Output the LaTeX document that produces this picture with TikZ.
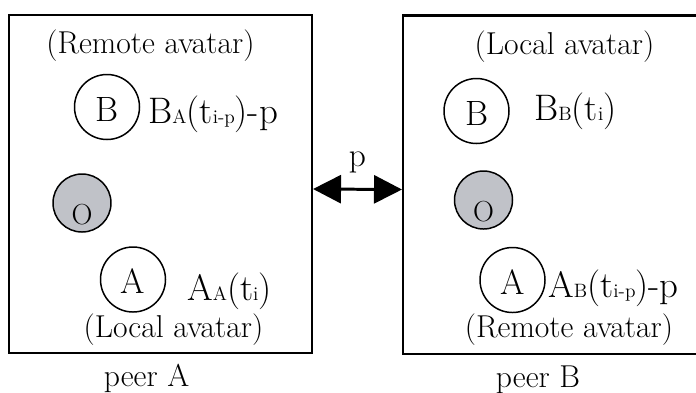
\documentclass[tikz,border=0pt]{standalone}
\usepackage{tikz}
\usetikzlibrary{arrows.meta, positioning}
\usepackage{xcolor}
\definecolor{objgray}{RGB}{192,194,200}
\newcommand{\subtxt}[1]{{\fontsize{11}{11}\selectfont #1}}

\begin{document}
\begin{tikzpicture}[
  peer/.style={draw, line width=1.15pt, minimum width=6.06cm, minimum height=6.76cm},
  avatar/.style={draw, circle, line width=0.85pt, minimum size=1.3cm, inner sep=0pt,
                 text height=0.56cm, text depth=0pt, font=\fontsize{20}{22}\selectfont},
  obstacle/.style={draw, circle, fill=objgray, line width=0.85pt, minimum size=1.16cm,
                   inner sep=0pt, text height=0.86cm, text depth=0pt,
                   font=\fontsize{16.5}{18}\selectfont},
  note/.style={anchor=base, inner sep=0pt, font=\fontsize{18}{20}\selectfont},
  poslabel/.style={anchor=base west, inner sep=0pt, font=\fontsize{21}{24}\selectfont},
  arr/.style={{Triangle[length=0.56cm,width=0.56cm]}-{Triangle[length=0.56cm,width=0.56cm]},
              line width=1.7pt}
]
  \clip (0,0) rectangle (13.92,-7.84);

  % the two peers
  \node[peer] (pA) at (3.21,-3.68)  {};
  \node[peer] (pB) at (11.09,-3.69) {};

  % peer A
  \node[note]     (remA)  at (3.01,-1.06) {(Remote avatar)};
  \node[avatar]   (bA)    at (2.14,-2.14) {B};
  \node[poslabel] (bApos) at (2.96,-2.46) {B\subtxt{A}(t\subtxt{i-p})-p};
  \node[obstacle] (oA)    at (1.64,-4.06) {O};
  \node[avatar]   (aA)    at (2.66,-5.59) {A};
  \node[poslabel] (aApos) at (3.74,-6.00) {A\subtxt{A}(t\subtxt{i})};
  \node[note]     (locA)  at (3.47,-6.74) {(Local avatar)};
  \node[note]     (nameA) at (2.93,-7.72) {peer A};

  % peer B
  \node[note]     (locB)  at (11.29,-1.08) {(Local avatar)};
  \node[avatar]   (bB)    at (9.53,-2.22)  {B};
  \node[poslabel] (bBpos) at (10.68,-2.41) {B\subtxt{B}(t\subtxt{i})};
  \node[obstacle] (oB)    at (9.67,-4.00)  {O};
  \node[avatar]   (aB)    at (10.25,-5.60) {A};
  \node[poslabel] (aBpos) at (10.96,-5.94) {A\subtxt{B}(t\subtxt{i-p})-p};
  \node[note]     (remB)  at (11.38,-6.74) {(Remote avatar)};
  \node[note]     (nameB) at (10.76,-7.74) {peer B};

  % delay between the peers
  \draw[arr] ([yshift=-0.1cm]pA.east) -- ([yshift=-0.1cm]pB.west)
    node[midway, above=0.3cm, inner sep=0pt, font=\fontsize{19}{21}\selectfont] (delay) {p};
\end{tikzpicture}
\end{document}
